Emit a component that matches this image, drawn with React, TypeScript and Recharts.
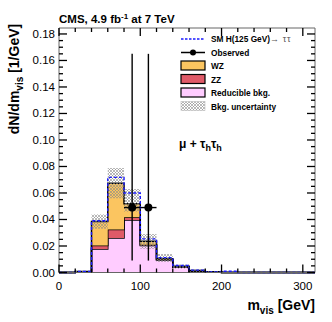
import React from "react";
import {
  ComposedChart,
  Area,
  Line,
  Scatter,
  ErrorBar,
  XAxis,
  YAxis,
} from "recharts";

// bin lower edges (GeV); last entry closes the final step
const binEdges = [0, 20, 40, 60, 80, 100, 120, 140, 160, 180, 200, 220, 240, 260, 280, 300, 315];
const reducible = [0, 0.0005, 0.0178, 0.0261, 0.0397, 0.0203, 0.0095, 0.004, 0.001, 0.0003, 0, 0, 0, 0, 0, 0, 0];
const zz = [0, 0, 0.0025, 0.0063, 0.002, 0.0007, 0.0003, 0.0002, 0.0001, 0, 0, 0, 0, 0, 0, 0, 0];
const wz = [0, 0.0003, 0.0181, 0.0349, 0.0101, 0.0026, 0.0005, 0.0006, 0.0004, 0.0002, 0, 0, 0, 0, 0, 0, 0];
const smH = [0, 0.0008, 0.039, 0.0718, 0.06, 0.0254, 0.0112, 0.0053, 0.0018, 0.0005, 0.001, 0, 0, 0, 0, 0, 0];
const uncLow = [0, 0.0004, 0.033, 0.056, 0.046, 0.018, 0.008, 0.003, 0.0005, 0, 0, 0, 0, 0, 0, 0, 0];
const uncHigh = [0, 0.0012, 0.0437, 0.0789, 0.063, 0.029, 0.014, 0.006, 0.0025, 0.001, 0, 0, 0, 0, 0, 0, 0];

const obsX = [90, 110];
const obsY = [0.049, 0.049];
const obsErrLow = [0.04, 0.04];
const obsErrHigh = [0.116, 0.116];
const obsHalfWidth = [10, 10];

const xTicks = [0, 20, 40, 60, 80, 100, 120, 140, 160, 180, 200, 220, 240, 260, 280, 300];
const xMajor = [0, 100, 200, 300];
const yMajor = [0, 0.02, 0.04, 0.06, 0.08, 0.1, 0.12, 0.14, 0.16, 0.18];
const yTicks: number[] = [];
yMajor.forEach((v, i) => {
  yTicks.push(v);
  if (i < yMajor.length - 1) {
    yTicks.push(+(v + 0.005).toFixed(3), +(v + 0.01).toFixed(3), +(v + 0.015).toFixed(3));
  }
});

const histData = binEdges.map((x, i) => ({
  x,
  reducible: reducible[i],
  zz: zz[i],
  wz: wz[i],
  smH: smH[i],
  unc: [uncLow[i], uncHigh[i]],
}));

const obsData = obsX.map((x, i) => ({
  x,
  y: obsY[i],
  ey: [obsErrLow[i], obsErrHigh[i]],
  ex: obsHalfWidth[i],
}));

const FONT = "'Liberation Sans', Arial, Helvetica, sans-serif";
const isMajorY = (v: number) => yMajor.some((m) => Math.abs(m - v) < 1e-6);
const isMajorX = (v: number) => xMajor.includes(v);
const TW = 1.3;
const TICK = "#000";
const blank = () => "";

const BottomTick = (props: any) => {
  const { x, y, payload } = props;
  const major = isMajorX(payload.value);
  return (
    <g>
      <line x1={x} y1={y} x2={x} y2={y - (major ? 8 : 4)} stroke={TICK} strokeWidth={TW} />
      {major && (
        <text x={x} y={y + 17} textAnchor="middle" fontSize={11.5} fontFamily={FONT} fill="#000">
          {payload.value}
        </text>
      )}
    </g>
  );
};
const TopTick = (props: any) => {
  const { x, y, payload } = props;
  const major = isMajorX(payload.value);
  return <line x1={x} y1={y} x2={x} y2={y + (major ? 8 : 4)} stroke={TICK} strokeWidth={TW} />;
};
const LeftTick = (props: any) => {
  const { x, y, payload } = props;
  const major = isMajorY(payload.value);
  return (
    <g>
      <line x1={x} y1={y} x2={x + (major ? 8 : 4)} y2={y} stroke={TICK} strokeWidth={TW} />
      {major && (
        <text x={x - 4} y={y + 4} textAnchor="end" fontSize={11.5} fontFamily={FONT} fill="#000">
          {Number(payload.value).toFixed(2)}
        </text>
      )}
    </g>
  );
};
const RightTick = (props: any) => {
  const { x, y, payload } = props;
  const major = isMajorY(payload.value);
  return <line x1={x} y1={y} x2={x - (major ? 8 : 4)} y2={y} stroke={TICK} strokeWidth={TW} />;
};

const ObsDot = (props: any) => {
  const { cx, cy } = props;
  return <circle cx={cx} cy={cy} r={4} fill="#000" />;
};

const WZ_COLOR = "#fbc560";
const ZZ_COLOR = "#df5a68";
const RED_COLOR = "#ffccff";

export default function App() {
  return (
    <div style={{ position: "absolute", left: 0, top: 0, width: 332, height: 322, background: "#fff" }}>
      <svg width={0} height={0} style={{ position: "absolute" }}>
        <defs>
          <pattern id="hatch" patternUnits="userSpaceOnUse" width={3} height={3}>
            <path d="M0,0 L3,3 M3,0 L0,3" stroke="#8a8a8a" strokeWidth={0.6} />
          </pattern>
        </defs>
      </svg>
      <ComposedChart
        width={332}
        height={322}
        data={histData}
        margin={{ top: 0, right: 0, bottom: 19.5, left: 0 }}
      >
        <XAxis
          xAxisId={0}
          dataKey="x"
          type="number"
          domain={[0, 315]}
          ticks={xTicks}
          height={30}
          tickSize={0}
          tickMargin={0}
          tickLine={false}
          tickFormatter={blank}
          tick={<BottomTick />}
        />
        <XAxis
          xAxisId="top"
          orientation="top"
          dataKey="x"
          type="number"
          domain={[0, 315]}
          ticks={xTicks}
          height={28}
          tickSize={0}
          tickMargin={0}
          tickLine={false}
          tickFormatter={blank}
          tick={<TopTick />}
        />
        <YAxis
          yAxisId={0}
          type="number"
          domain={[0, 0.1845]}
          ticks={yTicks}
          width={59}
          tickSize={0}
          tickMargin={0}
          tickLine={false}
          tickFormatter={blank}
          tick={<LeftTick />}
        />
        <YAxis
          yAxisId="right"
          orientation="right"
          type="number"
          domain={[0, 0.1845]}
          ticks={yTicks}
          width={17}
          tickSize={0}
          tickMargin={0}
          tickLine={false}
          tickFormatter={blank}
          tick={<RightTick />}
        />
        <Line
          xAxisId="top"
          yAxisId="right"
          dataKey="smH"
          stroke="none"
          dot={false}
          activeDot={false}
          legendType="none"
          isAnimationActive={false}
        />
        <Area
          type="stepAfter"
          dataKey="reducible"
          stackId="bkg"
          fill={RED_COLOR}
          fillOpacity={1}
          stroke="#000"
          strokeWidth={1.5}
          isAnimationActive={false}
        />
        <Area
          type="stepAfter"
          dataKey="zz"
          stackId="bkg"
          fill={ZZ_COLOR}
          fillOpacity={1}
          stroke="#000"
          strokeWidth={1.5}
          isAnimationActive={false}
        />
        <Area
          type="stepAfter"
          dataKey="wz"
          stackId="bkg"
          fill={WZ_COLOR}
          fillOpacity={1}
          stroke="#000"
          strokeWidth={1.5}
          isAnimationActive={false}
        />
        <Area
          type="stepAfter"
          dataKey="unc"
          fill="url(#hatch)"
          fillOpacity={1}
          stroke="none"
          isAnimationActive={false}
        />
        <Line
          type="stepAfter"
          dataKey="smH"
          stroke="#1a1aff"
          strokeWidth={1.4}
          strokeDasharray="3 2"
          dot={false}
          isAnimationActive={false}
        />
        <Scatter data={obsData} dataKey="y" shape={<ObsDot />} isAnimationActive={false}>
          <ErrorBar dataKey="ey" direction="y" width={0} stroke="#000" strokeWidth={1.4} />
          <ErrorBar dataKey="ex" direction="x" width={0} stroke="#000" strokeWidth={1.4} />
        </Scatter>
      </ComposedChart>
      <svg
        width={332}
        height={322}
        style={{ position: "absolute", left: 0, top: 0, pointerEvents: "none" }}
        fontFamily={FONT}
      >
        <text x={59} y={22.5} fontSize={11.5} fontWeight="bold" fill="#000">
          CMS, 4.9 fb
          <tspan dy={-4} fontSize={8}>-1</tspan>
          <tspan dy={4}> at 7 TeV</tspan>
        </text>
        <text
          x={19}
          y={79}
          fontSize={14}
          fontWeight="bold"
          fill="#000"
          textAnchor="middle"
          transform="rotate(-90 19 79)"
        >
          dN/dm
          <tspan dy={4} fontSize={10}>vis</tspan>
          <tspan dy={-4}> [1/GeV]</tspan>
        </text>
        <text x={315} y={310} fontSize={14} fontWeight="bold" fill="#000" textAnchor="end">
          m<tspan dy={4} fontSize={10}>vis</tspan>
          <tspan dy={-4}> [GeV]</tspan>
        </text>
        <text x={179} y={148} fontSize={12} fontWeight="bold" fill="#000">
          μ + τ<tspan dy={3} fontSize={9}>h</tspan>
          <tspan dy={-3}>τ</tspan>
          <tspan dy={3} fontSize={9}>h</tspan>
        </text>
        {/* legend */}
        <g fontSize={8.3} fontWeight="bold" fill="#000">
          <line x1={181} y1={39} x2={205} y2={39} stroke="#1a1aff" strokeWidth={1.3} strokeDasharray="2.5 1.5" />
          <text x={211} y={42}>
            SM H(125 GeV)
            <tspan fontWeight="normal" fill="#555" fontSize={9} letterSpacing={0.6}>→ ττ</tspan>
          </text>
          <line x1={181} y1={52.5} x2={205} y2={52.5} stroke="#000" strokeWidth={1.5} />
          <circle cx={193} cy={52.5} r={3} fill="#000" />
          <text x={211} y={55.5}>Observed</text>
          <rect x={181} y={61} width={24} height={9} fill={WZ_COLOR} stroke="#000" strokeWidth={1.2} />
          <text x={211} y={69}>WZ</text>
          <rect x={181} y={74.5} width={24} height={9} fill={ZZ_COLOR} stroke="#000" strokeWidth={1.2} />
          <text x={211} y={82.5}>ZZ</text>
          <rect x={181} y={88} width={24} height={9} fill={RED_COLOR} stroke="#000" strokeWidth={1.2} />
          <text x={211} y={95.5}>Reducible bkg.</text>
          <rect x={181} y={101.5} width={24} height={9} fill="url(#hatch)" stroke="#bbb" strokeWidth={0.6} />
          <text x={211} y={109.5}>Bkg. uncertainty</text>
        </g>
      </svg>
    </div>
  );
}
